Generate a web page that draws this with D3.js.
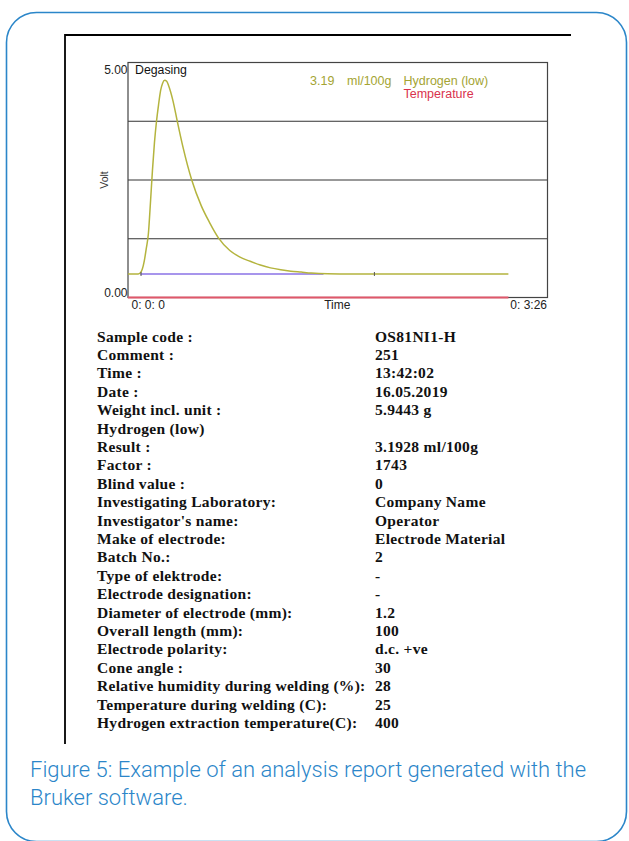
<!DOCTYPE html>
<html>
<head>
<meta charset="utf-8">
<script src="https://cdn.jsdelivr.net/npm/d3@7"></script>
<style>
  html, body { margin: 0; padding: 0; background: #fff; }
  svg { display: block; }
</style>
</head>
<body>
<svg id="chart" width="629" height="841"></svg>
<script>
// ---------- data ----------
const timeSec = [0, 5, 6, 7, 8, 9, 10, 11, 12, 13, 14, 15, 16, 17, 18, 19, 20, 22, 24.2, 27, 31.3, 36, 40, 44.4, 50, 55, 60, 65, 70, 75, 80, 85, 90, 98, 110, 186.8];
const hydrogenVolt = [0.5, 0.5, 0.52, 0.6, 0.78, 1.05, 1.35, 2.0, 2.7, 3.3, 3.75, 4.1, 4.4, 4.56, 4.62, 4.6, 4.5, 4.2, 3.75, 3.2, 2.5, 1.95, 1.6, 1.27, 1.0, 0.86, 0.77, 0.69, 0.63, 0.59, 0.56, 0.54, 0.52, 0.505, 0.5, 0.5];
const blueSegment = { t: [6, 96], v: [0.5, 0.5] };
const temperatureSegment = { t: [0, 186.8], v: [0, 0] };
const tickMarksTime = [6.4, 121];
const yDomain = [0, 5];
const xDomain = [0, 206];          // 0:0:0 .. 0:3:26
const gridVolts = [1.25, 2.5, 3.75];
const yTickLabels = ["0.00", "5.00"];
const xTickLabels = ["0: 0: 0", "Time", "0: 3:26"];
const legendValue = "3.19";
const legendUnit = "ml/100g";
const legendSeries = ["Hydrogen (low)", "Temperature"];

const reportLabels = ["Sample code :", "Comment :", "Time :", "Date :", "Weight incl. unit :", "Hydrogen (low)", "Result :", "Factor :", "Blind value :", "Investigating Laboratory:", "Investigator's name:", "Make of electrode:", "Batch No.:", "Type of elektrode:", "Electrode designation:", "Diameter of electrode (mm):", "Overall length (mm):", "Electrode polarity:", "Cone angle :", "Relative humidity during welding (%):", "Temperature during welding (C):", "Hydrogen extraction temperature(C):"];
const reportValues = ["OS81NI1-H", "251", "13:42:02", "16.05.2019", "5.9443 g", "", "3.1928 ml/100g", "1743", "0", "Company Name", "Operator", "Electrode Material", "2", "-", "-", "1.2", "100", "d.c. +ve", "30", "28", "25", "400"];

const captionLines = ["Figure 5: Example of an analysis report generated with the", "Bruker software."];

// ---------- drawing ----------
const svg = d3.select("#chart");
const blue = "#2b86c9";
const olive = "#b4b43e";
const oliveText = "#a4a433";
const red = "#e0576a";
const purple = "#8a72e6";

// outer rounded frame
svg.append("rect")
  .attr("x", 6.5).attr("y", 12.5)
  .attr("width", 620).attr("height", 829)
  .attr("rx", 30).attr("ry", 30)
  .attr("fill", "none").attr("stroke", blue).attr("stroke-width", 1.6);

// black page frame lines
svg.append("line").attr("x1", 65).attr("x2", 571).attr("y1", 35).attr("y2", 35)
  .attr("stroke", "#000").attr("stroke-width", 1.8);
svg.append("line").attr("x1", 65).attr("x2", 65).attr("y1", 34).attr("y2", 744)
  .attr("stroke", "#000").attr("stroke-width", 1.8);

// plot
const plot = { left: 128, top: 62.5, right: 547.5, bottom: 297.5 };
const x = d3.scaleLinear().domain(xDomain).range([plot.left, plot.right]);
const y = d3.scaleLinear().domain(yDomain).range([plot.bottom, plot.top]);

const g = svg.append("g");

// gridlines
g.selectAll("line.grid").data(gridVolts).enter().append("line")
  .attr("class", "grid")
  .attr("x1", plot.left).attr("x2", plot.right)
  .attr("y1", d => y(d)).attr("y2", d => y(d))
  .attr("stroke", "#333").attr("stroke-width", 1);

// plot border
g.append("rect")
  .attr("x", plot.left).attr("y", plot.top)
  .attr("width", plot.right - plot.left).attr("height", plot.bottom - plot.top)
  .attr("fill", "none").attr("stroke", "#444").attr("stroke-width", 1.2);

const segLine = d3.line().x(d => x(d[0])).y(d => y(d[1]));

// temperature line
g.append("path")
  .datum(d3.zip(temperatureSegment.t, temperatureSegment.v))
  .attr("d", segLine)
  .attr("fill", "none").attr("stroke", red).attr("stroke-width", 1.8);

// blue baseline
g.append("path")
  .datum(d3.zip(blueSegment.t, blueSegment.v))
  .attr("d", segLine)
  .attr("fill", "none").attr("stroke", purple).attr("stroke-width", 1.4);

// hydrogen curve
const curveLine = d3.line()
  .x(d => x(d[0])).y(d => y(d[1]))
  .curve(d3.curveMonotoneX);
g.append("path")
  .datum(d3.zip(timeSec, hydrogenVolt))
  .attr("d", curveLine)
  .attr("fill", "none").attr("stroke", olive).attr("stroke-width", 1.5);

// small tick marks on the curve baseline
g.selectAll("line.mk").data(tickMarksTime).enter().append("line")
  .attr("class", "mk")
  .attr("x1", d => x(d)).attr("x2", d => x(d))
  .attr("y1", y(0.5) - 2).attr("y2", y(0.5) + 2)
  .attr("stroke", "#555").attr("stroke-width", 1);

// axis labels
const sans = "Liberation Sans, Arial, sans-serif";
svg.append("text").text(yTickLabels[1])
  .attr("x", plot.left - 0.5).attr("y", 74)
  .attr("text-anchor", "end").attr("font-family", sans).attr("font-size", 12).attr("fill", "#222");
svg.append("text").text(yTickLabels[0])
  .attr("x", plot.left - 0.5).attr("y", 297)
  .attr("text-anchor", "end").attr("font-family", sans).attr("font-size", 12).attr("fill", "#222");
svg.append("text").text("Degasing")
  .attr("x", 135).attr("y", 74)
  .attr("font-family", sans).attr("font-size", 12.3).attr("fill", "#111");
svg.append("text").text("Volt")
  .attr("transform", "translate(108,180) rotate(-90)")
  .attr("text-anchor", "middle").attr("font-family", sans).attr("font-size", 10.5).attr("fill", "#333");

svg.append("text").text(xTickLabels[0])
  .attr("x", 131.5).attr("y", 308.5)
  .attr("font-family", sans).attr("font-size", 12).attr("fill", "#222");
svg.append("text").text(xTickLabels[1])
  .attr("x", (plot.left + plot.right) / 2 - 0.5).attr("y", 308.5)
  .attr("text-anchor", "middle").attr("font-family", sans).attr("font-size", 12).attr("fill", "#222");
svg.append("text").text(xTickLabels[2])
  .attr("x", 547).attr("y", 308.5)
  .attr("text-anchor", "end").attr("font-family", sans).attr("font-size", 12).attr("fill", "#222");

// legend
const legendSize = 12.5;
svg.append("text").text(legendValue)
  .attr("x", 310).attr("y", 84.5)
  .attr("font-family", sans).attr("font-size", legendSize).attr("fill", oliveText);
svg.append("text").text(legendUnit)
  .attr("x", 347).attr("y", 84.5)
  .attr("font-family", sans).attr("font-size", legendSize).attr("fill", oliveText);
svg.append("text").text(legendSeries[0])
  .attr("x", 403.5).attr("y", 84.5)
  .attr("font-family", sans).attr("font-size", legendSize).attr("fill", oliveText);
svg.append("text").text(legendSeries[1])
  .attr("x", 403.5).attr("y", 97.5)
  .attr("font-family", sans).attr("font-size", legendSize).attr("fill", "#d9334e");

// report table
const serif = "Liberation Serif, Times New Roman, serif";
const rowY = d3.scaleLinear().domain([0, reportLabels.length - 1]).range([341.7, 728]);
const tbl = svg.append("g")
  .attr("font-family", serif).attr("font-weight", "bold")
  .attr("font-size", 15.5).attr("letter-spacing", 0.3).attr("fill", "#111");
tbl.selectAll("text.lab").data(reportLabels).enter().append("text")
  .attr("class", "lab").attr("x", 97).attr("y", (d, i) => rowY(i)).text(d => d);
tbl.selectAll("text.val").data(reportValues).enter().append("text")
  .attr("class", "val").attr("x", 375).attr("y", (d, i) => rowY(i)).text(d => d);

// caption
svg.append("g").selectAll("text").data(captionLines).enter().append("text")
  .attr("x", 30).attr("y", (d, i) => 776.5 + i * 28)
  .attr("font-family", "Roboto, sans-serif").attr("font-weight", 300)
  .attr("font-size", 22).attr("fill", blue)
  .text(d => d);
</script>
</body>
</html>
